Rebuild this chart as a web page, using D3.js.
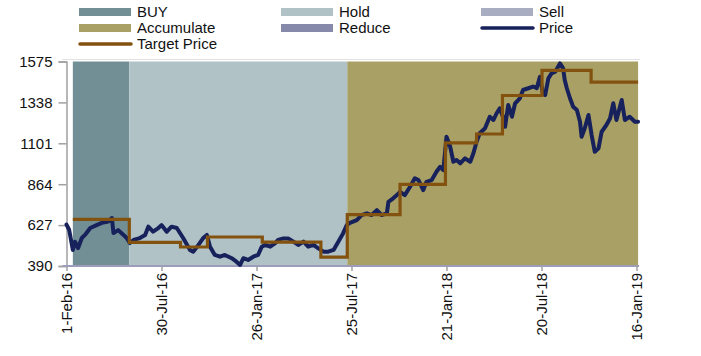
<!DOCTYPE html>
<html>
<head>
<meta charset="utf-8">
<script src="https://cdn.jsdelivr.net/npm/d3@7"></script>
<style>
  html, body { margin: 0; padding: 0; background: #fff; }
  svg { display: block; font-family: "Liberation Sans", Arial, sans-serif; }
</style>
</head>
<body>
<svg id="chart" width="701" height="356"></svg>
<script>
// ---------------- DATA ----------------
const startDate = "2016-02-01";
const endDate = "2019-01-16";
const xTickLabels = ["1-Feb-16", "30-Jul-16", "26-Jan-17", "25-Jul-17", "21-Jan-18", "20-Jul-18", "16-Jan-19"];
const yTickValues = [390, 627, 864, 1101, 1338, 1575];

// rating bands: start / end (days after startDate) and rating
const bandStart = [12, 119, 532];
const bandEnd = [119, 532, 1083];
const bandRating = ["BUY", "Hold", "Accumulate"];

// target price steps: start day offset and value (last step ends at tpEndDay)
const tpStartDay = [12, 119, 216, 267, 371, 482, 532, 632, 718, 777, 826, 901, 994];
const tpValue = [660, 527, 500, 558, 528, 441, 688, 863, 1103, 1155, 1378, 1523, 1456];
const tpEndDay = 1083;

// price: day offsets after startDate and closing values
const priceDay = [0, 5, 12, 16, 22, 29, 35, 45, 57, 67, 79, 86, 89, 98, 108, 114, 120, 127, 139, 149,
  155, 164, 174, 180, 190, 199, 209, 221, 234, 240, 250, 259, 266, 272, 281, 291, 300, 313, 322, 329,
  335, 344, 354, 363, 370, 376, 386, 395, 401, 411, 420, 430, 439, 449, 458, 468, 477, 487, 496, 506,
  515, 524, 531, 537, 550, 559, 569, 578, 588, 597, 607, 610, 619, 626, 632, 641, 651, 660, 667, 676,
  682, 692, 701, 708, 714, 720, 727, 733, 739, 746, 755, 765, 771, 777, 783, 793, 802, 809, 815, 821,
  828, 831, 837, 844, 850, 859, 865, 875, 884, 891, 897, 902, 907, 913, 919, 926, 935, 941, 944, 948,
  954, 960, 967, 973, 976, 982, 989, 995, 1001, 1008, 1014, 1023, 1030, 1036, 1042, 1052, 1058, 1067, 1077, 1083];
const priceValue = [630, 600, 483, 531, 494, 552, 570, 610, 627, 640, 647, 668, 581, 598, 570, 552, 523, 541, 552, 570,
  618, 589, 610, 627, 589, 618, 610, 552, 483, 473, 512, 552, 570, 502, 454, 444, 454, 435, 415, 396,
  435, 425, 444, 454, 502, 512, 502, 521, 541, 550, 550, 531, 512, 531, 502, 512, 492, 473, 473, 483,
  531, 579, 627, 640, 656, 685, 695, 685, 714, 685, 695, 762, 782, 801, 820, 801, 849, 898, 888, 830,
  878, 888, 936, 965, 946, 1139, 1081, 994, 1004, 985, 1014, 994, 1043, 1110, 1159, 1188, 1255, 1236, 1275, 1304,
  1246, 1197, 1323, 1255, 1333, 1362, 1410, 1420, 1430, 1420, 1487, 1400, 1381, 1477, 1506, 1516, 1564, 1535, 1468, 1420,
  1362, 1313, 1294, 1226, 1139, 1188, 1265, 1149, 1052, 1072, 1168, 1207, 1246, 1333, 1236, 1352, 1236, 1255, 1226, 1226];

const legendNames = ["BUY", "Hold", "Sell", "Accumulate", "Reduce", "Price", "Target Price"];
// ---------------- STYLE ----------------
const colors = {
  "BUY": "#718f95", "Hold": "#b0c2c6", "Sell": "#a9adc1", "Accumulate": "#a9a066",
  "Reduce": "#8689a9", "Price": "#17215b", "Target Price": "#84520f"
};

const svg = d3.select("#chart");
const parse = d3.timeParse("%Y-%m-%d");
const d0 = parse(startDate), d1 = parse(endDate);
const day = n => d3.timeDay.offset(d0, n);

const mLeft = 66.5, mRight = 636.5, mTop = 61.5, mBottom = 266;
const x = d3.scaleTime().domain([d0, d1]).range([mLeft, mRight]);
const y = d3.scaleLinear().domain([390, 1575]).range([mBottom, mTop]);

// top separator line
svg.append("line").attr("x1", 62).attr("x2", 640).attr("y1", 59.5).attr("y2", 59.5)
  .attr("stroke", "#e2e2e2").attr("stroke-width", 1);

// bands
svg.append("g").selectAll("rect").data(bandRating).join("rect")
  .attr("x", (d, i) => x(day(bandStart[i])))
  .attr("width", (d, i) => x(day(bandEnd[i])) - x(day(bandStart[i])))
  .attr("y", y(1575)).attr("height", y(390) - y(1575))
  .attr("fill", d => colors[d]);

// axes
const yAxis = d3.axisLeft(y).tickValues(yTickValues).tickSize(8).tickPadding(6).tickFormat(d3.format("d"));
const gy = svg.append("g").attr("transform", `translate(${mLeft},0)`).call(yAxis);
gy.select(".domain").attr("stroke", "#a0a0a0").attr("stroke-width", 1.5);
gy.selectAll(".tick line").attr("stroke", "#a0a0a0").attr("stroke-width", 1.5);
gy.selectAll("text").attr("font-size", 15).attr("fill", "#111")
  .attr("font-family", "'Liberation Sans', Arial, sans-serif");

const xTickDates = xTickLabels.map((s, i) => d3.timeDay.offset(d0, 180 * i));
const xAxis = d3.axisBottom(x).tickValues(xTickDates).tickSize(5)
  .tickFormat((d, i) => xTickLabels[i]);
const gx = svg.append("g").attr("transform", `translate(0,${mBottom})`).call(xAxis);
gx.select(".domain").attr("stroke", "#9d9dbb").attr("stroke-width", 2)
  .attr("d", `M${mLeft - 4},0H${x(day(1083)) + 1}`);
gx.selectAll(".tick line").attr("stroke", "#a0a0a0").attr("stroke-width", 1.5);
gx.selectAll("text").attr("font-size", 15).attr("fill", "#111")
  .attr("font-family", "'Liberation Sans', Arial, sans-serif")
  .attr("transform", "rotate(-90)")
  .attr("text-anchor", "end").attr("x", -7).attr("y", 0).attr("dy", "0.35em");

// target price step line
const tpPts = [];
tpStartDay.forEach((s, i) => {
  const e = i < tpStartDay.length - 1 ? tpStartDay[i + 1] : tpEndDay;
  tpPts.push([day(s), tpValue[i]]);
  tpPts.push([day(e), tpValue[i]]);
});
// price line
const pricePts = priceDay.map((d, i) => [day(d), priceValue[i]]);
const line = d3.line().x(d => x(d[0])).y(d => y(d[1]));

svg.append("path").datum(pricePts).attr("d", line)
  .attr("fill", "none").attr("stroke", colors["Price"]).attr("stroke-width", 4)
  .attr("stroke-linejoin", "round").attr("stroke-linecap", "round");
svg.append("path").datum(tpPts).attr("d", line)
  .attr("fill", "none").attr("stroke", colors["Target Price"]).attr("stroke-width", 3.2)
  .attr("stroke-linejoin", "miter");

// legend
const colX = [79, 281, 481];
const rowY = [12, 28, 44];
const lg = svg.append("g");
legendNames.forEach((name, i) => {
  const cx = colX[i % 3], cy = rowY[Math.floor(i / 3)];
  const g = lg.append("g");
  if (name === "Price" || name === "Target Price") {
    g.append("line").attr("x1", cx + 1).attr("x2", cx + 52).attr("y1", cy).attr("y2", cy)
      .attr("stroke", colors[name]).attr("stroke-width", 3.5).attr("stroke-linecap", "round");
  } else {
    g.append("rect").attr("x", cx).attr("y", cy - 4).attr("width", 52).attr("height", 8)
      .attr("fill", colors[name]);
  }
  g.append("text").attr("x", cx + 58).attr("y", cy).attr("dy", "0.36em")
    .attr("font-size", 15).attr("fill", "#111").text(name);
});
</script>
</body>
</html>
